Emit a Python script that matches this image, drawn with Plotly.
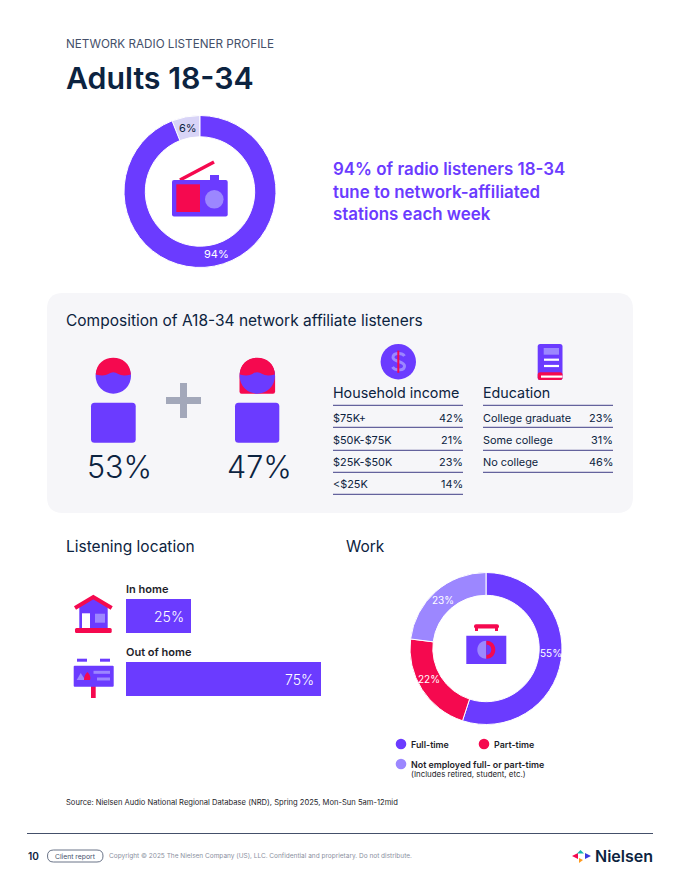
import math
import plotly.graph_objects as go

# chart values
reach_labels = ["Other", "Network affiliated"]
reach_values = [6, 94]
gender_labels = ["Men", "Women"]
gender_values = ["53%", "47%"]
income_labels = ["$75K+", "$50K-$75K", "$25K-$50K", "<$25K"]
income_values = ["42%", "21%", "23%", "14%"]
education_labels = ["College graduate", "Some college", "No college"]
education_values = ["23%", "31%", "46%"]
location_labels = ["In home", "Out of home"]
location_values = [25, 75]
work_labels = ["Full-time", "Part-time", "Not employed full- or part-time"]
work_values = [55, 22, 23]

PURPLE = "#6B3BFF"
RED = "#F5094F"
LILAC = "#9C87FF"
PALE = "#D8D4F7"
NAVY = "#0C2340"
SLATE = "#44506A"
RULE = "#403F86"
W, H = 680, 880
FONT = "Inter"

shapes = []
annotations = []


def rect(x0, y0, x1, y1, color, layer="above"):
    shapes.append(dict(type="rect", xref="x", yref="y", x0=x0, y0=y0, x1=x1, y1=y1,
                       fillcolor=color, line_width=0, layer=layer))


def rrect(x0, y0, x1, y1, r, color, layer="above", line=None):
    p = (f"M{x0 + r},{y0} L{x1 - r},{y0} Q{x1},{y0} {x1},{y0 + r} L{x1},{y1 - r} "
         f"Q{x1},{y1} {x1 - r},{y1} L{x0 + r},{y1} Q{x0},{y1} {x0},{y1 - r} "
         f"L{x0},{y0 + r} Q{x0},{y0} {x0 + r},{y0} Z")
    shapes.append(dict(type="path", xref="x", yref="y", path=p, fillcolor=color, layer=layer,
                       line=line or dict(width=0)))


def circle(cx, cy, r, color):
    shapes.append(dict(type="circle", xref="x", yref="y", x0=cx - r, y0=cy - r, x1=cx + r, y1=cy + r,
                       fillcolor=color, line_width=0, layer="above"))


def path(p, color):
    shapes.append(dict(type="path", xref="x", yref="y", path=p, fillcolor=color, line_width=0, layer="above"))


def stroke(p, color, width):
    shapes.append(dict(type="path", xref="x", yref="y", path=p, line=dict(color=color, width=width), layer="above"))


def line(x0, y0, x1, y1, color, width=1):
    shapes.append(dict(type="line", xref="x", yref="y", x0=x0, y0=y0, x1=x1, y1=y1,
                       line=dict(color=color, width=width), layer="above"))


def text(x, y, s, size, color=NAVY, weight=400, anchor="left"):
    annotations.append(dict(xref="x", yref="y", x=x, y=y, text=s, showarrow=False, xanchor=anchor, yanchor="middle",
                            font=dict(family=FONT, size=size, color=color, weight=weight), borderpad=0, borderwidth=0))


def head(cx, cy):
    circle(cx, cy, 17.7, PURPLE)
    path(f"M{cx - 17.5},{cy - 1.5} C{cx - 17},{cy - 24} {cx + 17},{cy - 24} {cx + 17.5},{cy - 1.5} "
         f"Q{cx + 9},{cy + 0.5} {cx + 5},{cy - 2} Q{cx},{cy - 5.5} {cx - 5},{cy - 2} Q{cx - 9},{cy + 0.5} {cx - 17.5},{cy - 1.5} Z", RED)


def ring_labels(values, start, cx, cy, r, colors, size, nudges):
    # slice labels sit on the ring at each slice's middle angle
    total = sum(values)
    a = start
    for v, c, (dx, dy) in zip(values, colors, nudges):
        mid = math.radians(a + v / total * 180)
        text(cx + r * math.sin(mid) + dx, cy - r * math.cos(mid) + dy, f"{v}%", size, c, 400, "center")
        a += v / total * 360


# page text
text(66, 44, "NETWORK RADIO LISTENER PROFILE", 11.7, SLATE)
text(66, 78, "Adults 18-34", 30.3, NAVY, 600)
text(333, 169, "94% of radio listeners 18-34", 16.9, PURPLE, 600)
text(333, 191.5, "tune to network-affiliated", 16.9, PURPLE, 600)
text(333, 214, "stations each week", 16.9, PURPLE, 600)

# composition panel
rrect(47, 293, 633, 513, 16, "#F6F6F9", layer="below")
text(66, 320, "Composition of A18-34 network affiliate listeners", 15.5)

# radio icon
line(180, 180, 214, 162, RED, 3.5)
rrect(172, 180, 227.7, 216.5, 2, PURPLE)
rect(210, 175, 219, 181, PURPLE)
rect(176.3, 184.3, 200, 212, RED)
circle(214.3, 199.3, 9.3, LILAC)

# people
head(113.3, 376)
rrect(91, 402.7, 135.7, 442.7, 3.5, PURPLE)
path("M239.5,376 C239.5,352 275.1,352 275.1,376 L275.1,391.5 Q275.1,393.7 273,393.7 L241.5,393.7 Q239.5,393.7 239.5,391.5 Z", RED)
head(257.3, 376)
rrect(235, 402.7, 279.3, 442.7, 3.5, PURPLE)
rect(180, 383, 187, 418, "#A3A8BA")
rect(166, 397, 201, 404, "#A3A8BA")
for x, v in zip([119.5, 259.5], gender_values):
    text(x, 466, v, 30.5, NAVY, 300, "center")

# income and education tables
circle(398.3, 361.7, 17.7, PURPLE)
stroke("M404.5,356 C402,352.5 393,352.5 393,357.5 C393,362 404.5,361 404.5,366 C404.5,371 395,371 392.5,367", LILAC, 3)
line(398.3, 350.5, 398.3, 372.8, RED, 2)
rrect(537.7, 344, 562.5, 380, 2.5, PURPLE)
rect(543.7, 348, 559, 354.7, LILAC)
line(544, 359.7, 559, 359.7, "white", 2.2)
line(544, 366, 559, 366, "white", 2.2)
rrect(537.7, 372.3, 562.5, 380, 2.5, RED)
rect(541, 375.5, 562.5, 377.7, "white")

text(333, 392, "Household income", 14.3)
text(483, 392, "Education", 14.3)
rule_ys = [405.3, 427.3, 450.3, 472.3, 494.3]
row_ys = [418, 440, 462, 484]
line(333, rule_ys[0], 463, rule_ys[0], RULE)
line(483, rule_ys[0], 613, rule_ys[0], RULE)
for i, (lab, val) in enumerate(zip(income_labels, income_values)):
    text(333, row_ys[i], lab, 10.9)
    text(463, row_ys[i], val, 10.9, anchor="right")
    line(333, rule_ys[i + 1], 463, rule_ys[i + 1], RULE)
for i, (lab, val) in enumerate(zip(education_labels, education_values)):
    text(483, row_ys[i], lab, 10.9)
    text(613, row_ys[i], val, 10.9, anchor="right")
    line(483, rule_ys[i + 1], 613, rule_ys[i + 1], RULE)

# listening location
text(66, 546, "Listening location", 15.5)
text(346, 546, "Work", 15.5)
text(126, 589, location_labels[0], 11, "#1E1E2A", 600)
text(126, 652, location_labels[1], 11, "#1E1E2A", 600)

# house icon
path("M79.3,628 L79.3,606 L93.3,597 L107.7,606 L107.7,628 Z", PURPLE)
stroke("M75,608 L93.3,597 L111.7,608", RED, 4)
rect(82, 613.3, 90, 628, "white")
rect(95, 613.7, 105, 622.7, LILAC)
rrect(75, 628, 111.7, 633, 1.5, RED)

# billboard icon
rect(77, 658.7, 87, 661.7, PURPLE)
rect(100, 658.7, 110, 661.7, PURPLE)
rect(91, 686, 95.7, 698, RED)
rrect(73.7, 665.7, 113.7, 686.7, 1, PURPLE)
path("M76.7,680 L80.7,673 L85.3,680 Z", LILAC)
path("M87.5,672 C90,675 91,677 90,680 L84,680 C84,677 85,674 87.5,672 Z", RED)
line(93.5, 672.3, 110, 672.3, LILAC, 3)
line(97, 679, 110, 679, LILAC, 3)

# briefcase icon
rrect(474, 624.3, 499, 628.5, 2, RED)
rect(475, 626, 478, 631, RED)
rect(495, 626, 498, 631, RED)
rect(466.3, 635.7, 506.3, 664, PURPLE)
path("M486.3,640.7 C474.3,640.7 474.3,658.7 486.3,658.7 Z", LILAC)
path("M486.3,640.7 C498.3,640.7 498.3,658.7 486.3,658.7 Z", RED)
path("M486.3,644.5 C493,644.5 493,654.9 486.3,654.9 Z", PURPLE)

# work legend
for x, y, color in [(401, 744, PURPLE), (484, 744, RED), (401, 764, LILAC)]:
    circle(x, y, 5.3, color)
text(411, 744, work_labels[0], 8.9, "#1E1E2A", 600)
text(493.5, 744, work_labels[1], 8.9, "#1E1E2A", 600)
text(411, 764, work_labels[2], 8.9, "#1E1E2A", 600)
text(411, 773.5, "(Includes retired, student, etc.)", 7.9, "#1E1E2A")

# source and footer
text(66, 802, "Source: Nielsen Audio National Regional Database (NRD), Spring 2025, Mon-Sun 5am-12mid", 7.6, "#1E1E2A")
line(27, 833.5, 653, 833.5, SLATE)
text(27.5, 856, "10", 10, NAVY, 600)
rrect(47.5, 850, 103, 862, 6, "rgba(0,0,0,0)", line=dict(color=SLATE, width=0.8))
text(75.2, 856, "Client report", 6.8, SLATE, 400, "center")
text(109, 856, "Copyright © 2025 The Nielsen Company (US), LLC. Confidential and proprietary. Do not distribute.", 6.5, "#8A90A0")
path("M578,853 L578,859 L572,856 Z", RED)
path("M580.5,850 L584,853.5 L577,853.5 Z", "#16B5B0")
path("M585,853 L591,856 L585,859 Z", "#3B3BE0")
path("M579,858 L583,860 L579,863 Z", "#FF9A1F")
text(595, 856, "Nielsen", 16, NAVY, 600)

# labels on the two rings
ring_labels(reach_values, -21.6, 200, 191.5, 65, [NAVY, "white"], 11, [(0, 0), (4.5, -1)])
ring_labels(work_values, 0, 486, 648.5, 65, ["white", "white", "white"], 10, [(1, -6), (-2, -4), (0, 0)])

fig = go.Figure()

fig.add_trace(go.Pie(
    labels=reach_labels, values=reach_values, hole=0.72, sort=False, direction="clockwise",
    rotation=-21.6, marker=dict(colors=[PALE, PURPLE], line=dict(color="white", width=1)),
    domain=dict(x=[124 / W, 276 / W], y=[1 - 267.5 / H, 1 - 115.5 / H]),
    textinfo="none", showlegend=False,
))

fig.add_trace(go.Pie(
    labels=work_labels, values=work_values, hole=0.7, sort=False, direction="clockwise",
    marker=dict(colors=[PURPLE, RED, LILAC], line=dict(color="white", width=1)),
    domain=dict(x=[410 / W, 562 / W], y=[1 - 724.5 / H, 1 - 572.5 / H]),
    textinfo="none", showlegend=False,
))

fig.add_trace(go.Bar(
    x=location_values, y=location_labels, orientation="h", width=0.54, xaxis="x2", yaxis="y2",
    marker=dict(color=PURPLE, line_width=0), text=[f"{v}%\u00a0" for v in location_values],
    textposition="inside", insidetextanchor="end", textangle=0, showlegend=False,
    textfont=dict(family=FONT, size=14, color="white", weight=300),
))

fig.update_layout(
    width=W, height=H, autosize=False, margin=dict(l=0, r=0, t=0, b=0),
    paper_bgcolor="white", plot_bgcolor="rgba(0,0,0,0)",
    xaxis=dict(range=[0, W], visible=False, domain=[0, 1], fixedrange=True),
    yaxis=dict(range=[H, 0], visible=False, domain=[0, 1], fixedrange=True),
    xaxis2=dict(range=[0, 75], domain=[126 / W, 321 / W], visible=False, anchor="y2"),
    yaxis2=dict(autorange="reversed", domain=[1 - 710.5 / H, 1 - 584.5 / H], visible=False, anchor="x2"),
    shapes=shapes, annotations=annotations, font=dict(family=FONT),
)

fig.write_html("out.html", config=dict(displayModeBar=False),
               post_script="document.body.style.margin='0';")
